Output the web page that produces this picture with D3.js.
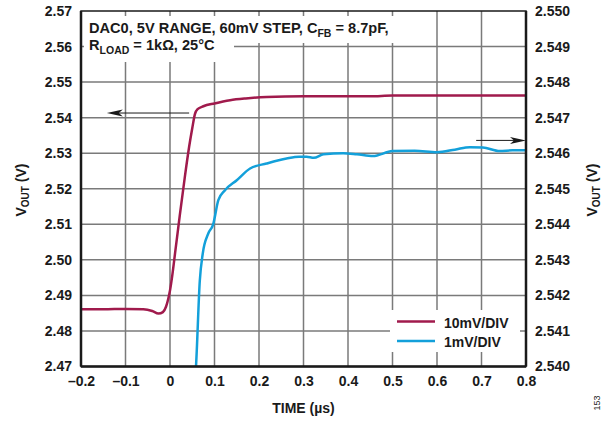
<!DOCTYPE html>
<html>
<head>
<meta charset="utf-8">
<script src="https://cdn.jsdelivr.net/npm/d3@7"></script>
<style>
  body { margin: 0; background: #fff; }
  text { font-family: "Liberation Sans", Arial, sans-serif; font-weight: bold; fill: #1a1a1a; }
</style>
</head>
<body>
<div id="chart"></div>
<script>
// time axis (µs)
var xTicks = [-0.2, -0.1, 0, 0.1, 0.2, 0.3, 0.4, 0.5, 0.6, 0.7, 0.8];
var leftTicks = [2.47, 2.48, 2.49, 2.50, 2.51, 2.52, 2.53, 2.54, 2.55, 2.56, 2.57];
var rightTicks = [2.540, 2.541, 2.542, 2.543, 2.544, 2.545, 2.546, 2.547, 2.548, 2.549, 2.550];

// 10mV/DIV trace, read against the left axis
var redTime = [-0.2, -0.15, -0.1, -0.06, -0.04, -0.026, -0.016, -0.009, -0.004, 0, 0.005, 0.012, 0.022, 0.033, 0.043, 0.05, 0.056, 0.062, 0.075, 0.1, 0.135, 0.17, 0.217, 0.3, 0.4, 0.45, 0.5, 0.6, 0.7, 0.8];
var redV = [2.4861, 2.4861, 2.4862, 2.4861, 2.4856, 2.4849, 2.4853, 2.4868, 2.4890, 2.4914, 2.4955, 2.5025, 2.5125, 2.5230, 2.5318, 2.5370, 2.5410, 2.5424, 2.5432, 2.5440, 2.5449, 2.5454, 2.5458, 2.5460, 2.5460, 2.5460, 2.5462, 2.5462, 2.5462, 2.5462];

// 1mV/DIV trace, read against the right axis
var blueTime = [0.055, 0.0584, 0.067, 0.0735, 0.086, 0.097, 0.1086, 0.1236, 0.15, 0.18, 0.217, 0.262, 0.29, 0.307, 0.323, 0.345, 0.389, 0.42, 0.456, 0.5, 0.55, 0.6, 0.64, 0.674, 0.703, 0.741, 0.77, 0.8];
var blueV = [2.5394, 2.5400, 2.54242, 2.54317, 2.54374, 2.5440, 2.54468, 2.54496, 2.54524, 2.54557, 2.54571, 2.54585, 2.54590, 2.54590, 2.54587, 2.54597, 2.54600, 2.54597, 2.54592, 2.54606, 2.54607, 2.54603, 2.54610, 2.54617, 2.54616, 2.54606, 2.54608, 2.54608];

var seriesNames = ["10mV/DIV", "1mV/DIV"];
var colors = ["#a01a4c", "#13a0da"];

var width = 616, height = 423;
var margin = { top: 11, left: 81, bottom: 56.5, right: 90 };
var plotW = width - margin.left - margin.right;
var plotH = height - margin.top - margin.bottom;

var svg = d3.select("#chart").append("svg")
  .attr("width", width)
  .attr("height", height);

var x = d3.scaleLinear().domain([-0.2, 0.8]).range([0, plotW]);
var yL = d3.scaleLinear().domain([2.47, 2.57]).range([plotH, 0]);
var yR = d3.scaleLinear().domain([2.540, 2.550]).range([plotH, 0]);

var g = svg.append("g")
  .attr("transform", "translate(" + margin.left + "," + margin.top + ")");

svg.append("defs").append("clipPath").attr("id", "clip")
  .append("rect").attr("width", plotW).attr("height", plotH);

// grid
g.selectAll(".vgrid").data(xTicks.slice(1, -1)).enter().append("line")
  .attr("x1", function (d) { return x(d); })
  .attr("x2", function (d) { return x(d); })
  .attr("y1", 0).attr("y2", plotH)
  .attr("stroke", "#7a7a7a").attr("stroke-width", 1.5);
g.selectAll(".hgrid").data(leftTicks.slice(1, -1)).enter().append("line")
  .attr("x1", 0).attr("x2", plotW)
  .attr("y1", function (d) { return yL(d); })
  .attr("y2", function (d) { return yL(d); })
  .attr("stroke", "#7a7a7a").attr("stroke-width", 1.5);

// white backing for the condition text and the legend
g.append("rect").attr("x", 3).attr("y", 5).attr("width", 313).attr("height", 27).attr("fill", "#fff");
g.append("rect").attr("x", 3).attr("y", 31).attr("width", 150).attr("height", 20).attr("fill", "#fff");
g.append("rect").attr("x", 309).attr("y", 299).attr("width", 130).attr("height", 42).attr("fill", "#fff");

// traces
var redLine = d3.line()
  .x(function (d) { return x(d[0]); })
  .y(function (d) { return yL(d[1]); })
  .curve(d3.curveMonotoneX);
var blueLine = d3.line()
  .x(function (d) { return x(d[0]); })
  .y(function (d) { return yR(d[1]); })
  .curve(d3.curveMonotoneX);

var plot = g.append("g").attr("clip-path", "url(#clip)");
plot.append("path")
  .datum(d3.zip(redTime, redV))
  .attr("fill", "none").attr("stroke", colors[0]).attr("stroke-width", 2.5)
  .attr("d", redLine);
plot.append("path")
  .datum(d3.zip(blueTime, blueV))
  .attr("fill", "none").attr("stroke", colors[1]).attr("stroke-width", 2.5)
  .attr("d", blueLine);

// axes
var fmtX = function (d) { return Math.abs(d) < 1e-9 ? "0" : d3.format(".1f")(d).replace("\u2212", "\u2013"); };

var gX = g.append("g")
  .attr("transform", "translate(0," + plotH + ")")
  .call(d3.axisBottom(x).tickValues(xTicks).tickSize(0).tickPadding(10).tickFormat(fmtX));
var gL = g.append("g")
  .call(d3.axisLeft(yL).tickValues(leftTicks).tickSize(0).tickPadding(9).tickFormat(d3.format(".2f")));
var gR = g.append("g")
  .attr("transform", "translate(" + plotW + ",0)")
  .call(d3.axisRight(yR).tickValues(rightTicks).tickSize(0).tickPadding(9).tickFormat(d3.format(".3f")));

[gX, gL, gR].forEach(function (a) {
  a.select(".domain").remove();
  a.selectAll("text").style("font-size", "14px").style("font-family", "'Liberation Sans', Arial, sans-serif")
    .style("font-weight", "bold").attr("fill", "#1a1a1a");
});

// frame
g.append("rect").attr("width", plotW).attr("height", plotH)
  .attr("fill", "none").attr("stroke", "#1a1a1a").attr("stroke-width", 1.5);
g.append("line").attr("x1", 0).attr("x2", 0).attr("y1", 0).attr("y2", plotH)
  .attr("stroke", "#1a1a1a").attr("stroke-width", 2.5);
g.append("line").attr("x1", 0).attr("x2", plotW).attr("y1", plotH).attr("y2", plotH)
  .attr("stroke", "#1a1a1a").attr("stroke-width", 2.5);
g.append("line").attr("x1", plotW).attr("x2", plotW).attr("y1", 0).attr("y2", plotH)
  .attr("stroke", "#1a1a1a").attr("stroke-width", 2.5);

// axis pointer arrows
function arrow(x1, x2, yy) {
  var dir = x2 < x1 ? 1 : -1;
  g.append("line").attr("x1", x1).attr("x2", x2 + dir * 10).attr("y1", yy).attr("y2", yy)
    .attr("stroke", "#1a1a1a").attr("stroke-width", 1);
  g.append("path")
    .attr("d", "M" + x2 + "," + yy + "L" + (x2 + dir * 16) + "," + (yy - 3.5) +
      "L" + (x2 + dir * 12) + "," + yy + "L" + (x2 + dir * 16) + "," + (yy + 3.5) + "Z")
    .attr("fill", "#1a1a1a");
}
arrow(x(0.043), x(-0.142), yL(2.5413));
arrow(x(0.688), x(0.8), yR(2.54636));

// condition text
var t1 = g.append("text").attr("x", 8).attr("y", 22).style("font-size", "14.6px");
t1.append("tspan").text("DAC0, 5V RANGE, 60mV STEP, C");
t1.append("tspan").attr("dy", 4).style("font-size", "10.5px").text("FB");
t1.append("tspan").attr("dy", -4).text(" = 8.7pF,");
var t2 = g.append("text").attr("x", 8).attr("y", 39).style("font-size", "14.6px");
t2.append("tspan").text("R");
t2.append("tspan").attr("dy", 4).style("font-size", "10.5px").text("LOAD");
t2.append("tspan").attr("dy", -4).text(" = 1k\u03A9, 25\u00B0C");

// legend
var leg = g.selectAll(".leg").data(seriesNames).enter().append("g")
  .attr("transform", function (d, i) { return "translate(316," + (310.5 + i * 19.5) + ")"; });
leg.append("line").attr("x1", 0).attr("x2", 38).attr("y1", 0).attr("y2", 0)
  .attr("stroke", function (d, i) { return colors[i]; }).attr("stroke-width", 2.5);
leg.append("text").attr("x", 47).attr("y", 6).style("font-size", "14px").text(function (d) { return d; });

// axis titles
svg.append("text").attr("x", margin.left + plotW / 2).attr("y", 413)
  .attr("text-anchor", "middle").style("font-size", "14px").text("TIME (\u00B5s)");

function yTitle(cx, cy) {
  var t = svg.append("text").attr("transform", "translate(" + cx + "," + cy + ") rotate(-90)")
    .attr("text-anchor", "middle").style("font-size", "14px");
  t.append("tspan").text("V");
  t.append("tspan").attr("dy", 3).style("font-size", "10px").text("OUT");
  t.append("tspan").attr("dy", -3).text(" (V)");
}
yTitle(26, 190);
yTitle(597, 190);

svg.append("text").attr("transform", "translate(600,403) rotate(-90)")
  .attr("text-anchor", "middle").style("font-size", "9px").style("font-weight", "normal")
  .attr("fill", "#555").text("153");
</script>
</body>
</html>
